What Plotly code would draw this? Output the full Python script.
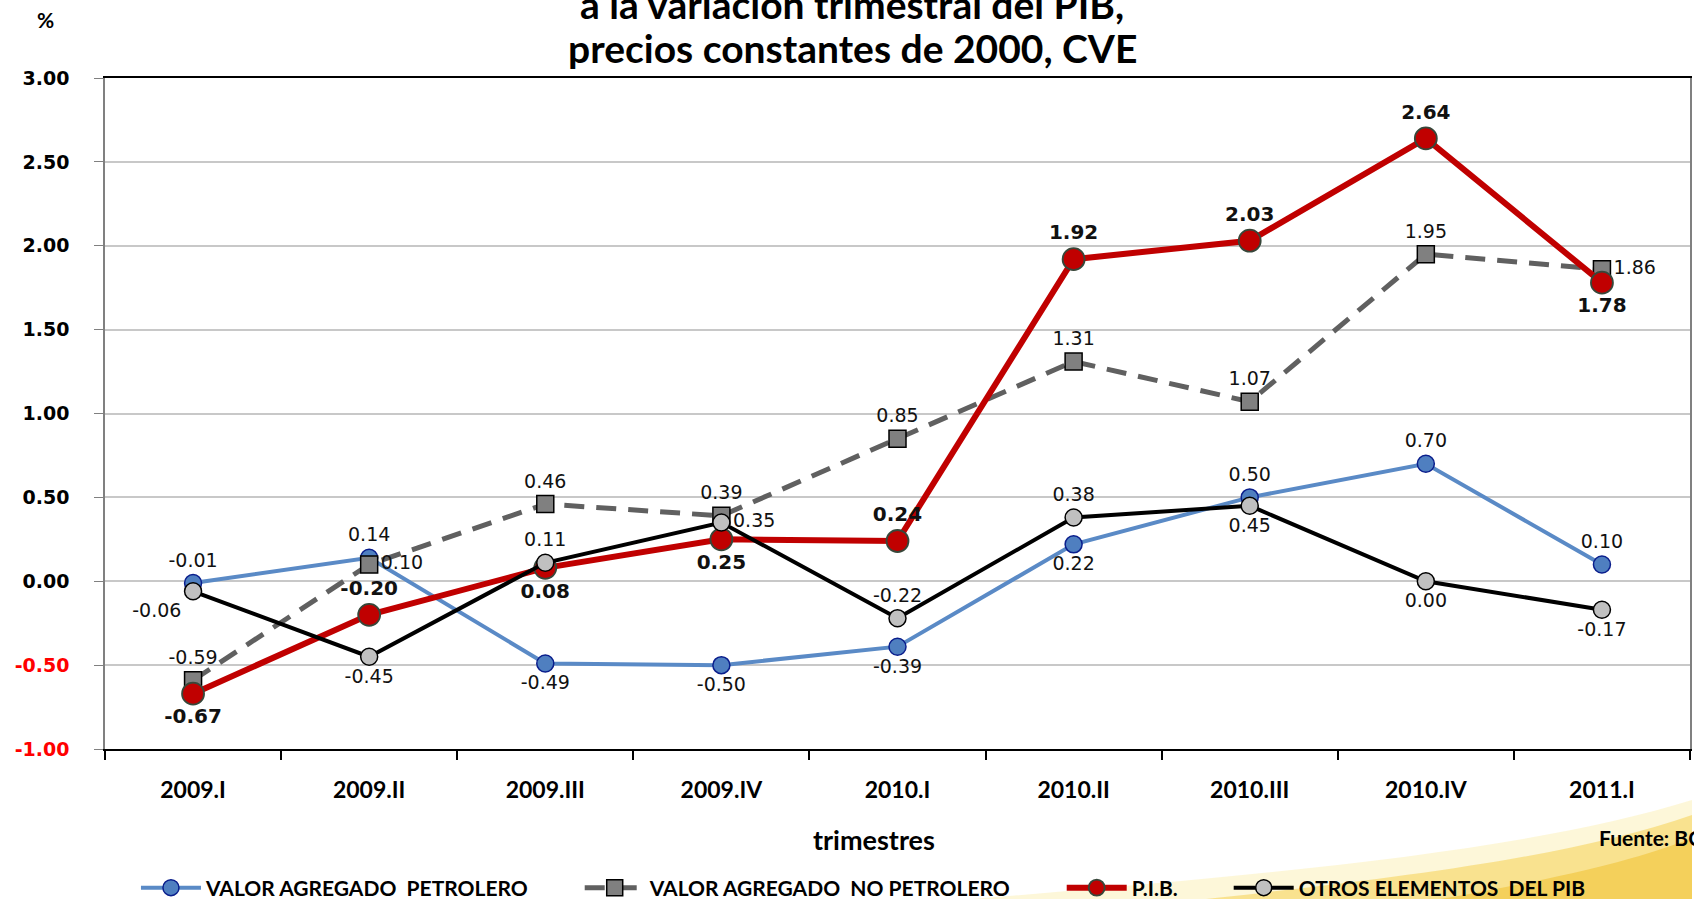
import plotly.graph_objects as go

categories = ["2009.I", "2009.II", "2009.III", "2009.IV", "2010.I",
              "2010.II", "2010.III", "2010.IV", "2011.I"]

petrolero = [-0.01, 0.14, -0.49, -0.50, -0.39, 0.22, 0.50, 0.70, 0.10]
no_petrolero = [-0.59, 0.10, 0.46, 0.39, 0.85, 1.31, 1.07, 1.95, 1.86]
pib = [-0.67, -0.20, 0.08, 0.25, 0.24, 1.92, 2.03, 2.64, 1.78]
otros = [-0.06, -0.45, 0.11, 0.35, -0.22, 0.38, 0.45, 0.00, -0.17]

names = ["VALOR AGREGADO  PETROLERO", "VALOR AGREGADO  NO PETROLERO",
         "P.I.B.", "OTROS ELEMENTOS  DEL PIB"]

pos_petrolero = ["top center", "top center", "bottom center", "bottom center", "bottom center",
                 "bottom center", "top center", "top center", "top center"]
pos_no_petrolero = ["top center", "middle right", "top center", "top center", "top center",
                    "top center", "top center", "top center", "middle right"]
pos_pib = ["bottom center", "top center", "bottom center", "bottom center", "top center",
           "top center", "top center", "top center", "bottom center"]
pos_otros = ["bottom left", "bottom center", "top center", "middle right", "top center",
             "top center", "bottom center", "bottom center", "bottom center"]

ytick_vals = [-1.0, -0.5, 0.0, 0.5, 1.0, 1.5, 2.0, 2.5, 3.0]

W, H = 1694, 915          # figure a bit taller than the window; bottom is clipped like the reference crop
L, R, T, B = 105, 2, 78, 166
PW, PH = W - L - R, H - T - B


def px(x):
    return (x - L) / PW


def py(y):
    return (H - B - y) / PH


CAL = "Lato, 'Open Sans', sans-serif"
VER = "'DejaVu Sans', Verdana, sans-serif"
PAD = "\u00a0" * 9

fig = go.Figure()

fig.add_trace(go.Scatter(
    x=categories, y=petrolero, name=names[0] + PAD, mode="lines+markers+text",
    line=dict(color="#5A8AC6", width=4),
    marker=dict(symbol="circle", size=17, color="#4F7FC0", line=dict(color="#0A1E8C", width=1.5)),
    text=[f"{v:.2f}" for v in petrolero], textposition=pos_petrolero,
    textfont=dict(family=VER, size=19, color="#111111"),
))
fig.add_trace(go.Scatter(
    x=categories, y=no_petrolero, name=names[1] + PAD, mode="lines+markers+text",
    line=dict(color="#606060", width=5, dash="20px,12px"),
    marker=dict(symbol="square", size=17, color="#808080", line=dict(color="#000000", width=1.5)),
    text=[f"{v:.2f}" for v in no_petrolero], textposition=pos_no_petrolero,
    textfont=dict(family=VER, size=19, color="#111111"),
))
fig.add_trace(go.Scatter(
    x=categories, y=pib, name=names[2] + PAD, mode="lines+markers+text",
    line=dict(color="#C00000", width=6),
    marker=dict(symbol="circle", size=22, color="#C00000", line=dict(color="#37473A", width=1.8)),
    text=[f"<b>{v:.2f}</b>" for v in pib], textposition=pos_pib,
    textfont=dict(family=VER, size=20, color="#111111"),
))
fig.add_trace(go.Scatter(
    x=categories, y=otros, name=names[3], mode="lines+markers+text",
    line=dict(color="#000000", width=4),
    marker=dict(symbol="circle", size=17, color="#C0C0C0", line=dict(color="#000000", width=1.5)),
    text=[f"{v:.2f}" for v in otros], textposition=pos_otros,
    textfont=dict(family=VER, size=19, color="#111111"),
))

ytick_text = []
for v in ytick_vals:
    s = f"{v:.2f}"
    if v < 0:
        s = f'<span style="color:#FF0000">{s}</span>'
    ytick_text.append(s)

fig.update_layout(
    width=W, height=H,
    margin=dict(l=L, r=R, t=T, b=B),
    paper_bgcolor="#FFFFFF",
    plot_bgcolor="#FFFFFF",
    showlegend=True,
    legend=dict(orientation="h", x=px(136), xanchor="left", y=py(888), yanchor="middle",
                font=dict(family=CAL, size=21, color="#000000", weight="bold"),
                bgcolor="rgba(0,0,0,0)", itemwidth=60, traceorder="normal"),
    xaxis=dict(
        type="category", range=[-0.5, 8.5],
        showline=True, linecolor="#000000", linewidth=2, mirror=True,
        ticks="outside", tickson="boundaries", ticklen=9, tickcolor="#000000", tickwidth=1.5,
        tickfont=dict(family=CAL, size=23, color="#000000", weight="bold"),
        ticklabelstandoff=19,
        showgrid=False, zeroline=False,
    ),
    yaxis=dict(
        range=[-1.0, 3.0], tickvals=ytick_vals, ticktext=ytick_text,
        showline=True, linecolor="#808080", linewidth=1.5, mirror=True,
        ticks="outside", ticklen=9, tickcolor="#808080",
        tickfont=dict(family=VER, size=19, color="#000000", weight="bold"),
        ticklabelstandoff=21,
        showgrid=True, gridcolor="#C8C8C8", gridwidth=1.5, zeroline=False,
    ),
    annotations=[
        dict(text="a la variación trimestral del PIB,", x=px(853), y=py(4), xref="paper", yref="paper",
             showarrow=False, font=dict(family=CAL, size=39, color="#000000", weight="bold"),
             xanchor="center", yanchor="middle"),
        dict(text="precios constantes de 2000, CVE", x=px(853), y=py(48), xref="paper", yref="paper",
             showarrow=False, font=dict(family=CAL, size=39, color="#000000", weight="bold"),
             xanchor="center", yanchor="middle"),
        dict(text="%", x=px(45), y=py(19), xref="paper", yref="paper",
             showarrow=False, font=dict(family=CAL, size=21, color="#000000", weight="bold"),
             xanchor="center", yanchor="middle"),
        dict(text="trimestres", x=px(875), y=py(839), xref="paper", yref="paper",
             showarrow=False, font=dict(family=CAL, size=27, color="#000000", weight="bold"),
             xanchor="center", yanchor="middle"),
        dict(text="Fuente: BCV", x=px(1599), y=py(837), xref="paper", yref="paper",
             showarrow=False, font=dict(family=CAL, size=21, color="#000000", weight="bold"),
             xanchor="left", yanchor="middle"),
    ],
    shapes=[
        dict(type="path", xref="paper", yref="paper", layer="below", line=dict(width=0),
             fillcolor="rgba(250,228,130,0.30)",
             path=f"M {px(780)},{py(915)} C {px(1200)},{py(880)} {px(1500)},{py(860)} {px(1694)},{py(800)} L {px(1694)},{py(915)} Z"),
        dict(type="path", xref="paper", yref="paper", layer="below", line=dict(width=0),
             fillcolor="rgba(245,205,70,0.50)",
             path=f"M {px(1050)},{py(915)} C {px(1350)},{py(885)} {px(1560)},{py(862)} {px(1694)},{py(815)} L {px(1694)},{py(915)} Z"),
        dict(type="path", xref="paper", yref="paper", layer="below", line=dict(width=0),
             fillcolor="rgba(240,190,40,0.50)",
             path=f"M {px(1350)},{py(915)} C {px(1500)},{py(890)} {px(1620)},{py(868)} {px(1694)},{py(838)} L {px(1694)},{py(915)} Z"),
    ],
)

fig.write_html("out.html", config={"displayModeBar": False})

with open("out.html", "r", encoding="utf-8") as f:
    html = f.read()
html = html.replace("<body>", '<body style="margin:0;padding:0;overflow:hidden">', 1)
with open("out.html", "w", encoding="utf-8") as f:
    f.write(html)
